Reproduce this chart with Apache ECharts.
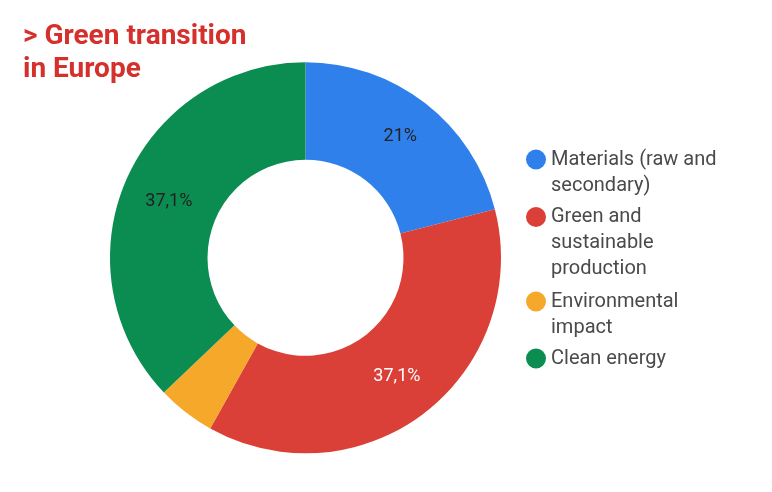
<!DOCTYPE html>
<html>
<head>
<meta charset="utf-8">
<script src="https://cdn.jsdelivr.net/npm/echarts@6/dist/echarts.min.js"></script>
<style>
html,body{margin:0;padding:0;background:#fff;}
#c{width:772px;height:492px;}
</style>
</head>
<body>
<div id="c"></div>
<script>
const categories = ['Materials (raw and secondary)', 'Green and sustainable production', 'Environmental impact', 'Clean energy'];
const legendLabels = ['Materials (raw and\nsecondary)', 'Green and\nsustainable\nproduction', 'Environmental\nimpact', 'Clean energy'];
const values = [21, 37.1, 4.8, 37.1];
const showLabel = [true, true, false, true];
const colors = ['#2f80ea', '#da4037', '#f6a82b', '#0b8c50'];
const labelColors = ['#222222', '#ffffff', '#222222', '#222222'];
const labelOffsets = [[3, -3], [0, 0], [0, 0], [1, 3]];

const chart = echarts.init(document.getElementById('c'), null, {renderer: 'canvas'});

const lineH = 26;
const legendCenters = [159.5, 217, 301.5, 358.5];
const legends = categories.map((name, i) => {
  const lines = legendLabels[i].split('\n').length;
  const txt = '\n'.repeat(lines - 1) + legendLabels[i];
  return {
    orient: 'vertical',
    left: 526,
    top: legendCenters[i] - 13 - lineH * (lines - 1),
    padding: 0,
    itemWidth: 20,
    itemHeight: 20,
    icon: 'circle',
    selectedMode: false,
    data: [name],
    formatter: () => txt,
    textStyle: {
      fontFamily: 'Roboto',
      fontSize: 20,
      color: '#4a4a4a',
      lineHeight: lineH
    }
  };
});

chart.setOption({
  animation: false,
  color: colors,
  title: {
    text: '> Green transition\nin Europe',
    left: 23,
    top: 20,
    padding: 0,
    textStyle: {
      fontFamily: 'Roboto',
      fontWeight: 'bold',
      fontSize: 28,
      lineHeight: 33,
      color: '#d5302b'
    }
  },
  legend: legends,
  series: [{
    type: 'pie',
    center: [305.5, 257.8],
    radius: [98, 195.5],
    startAngle: 90,
    clockwise: true,
    avoidLabelOverlap: false,
    emphasis: {disabled: true},
    itemStyle: {borderWidth: 0},
    labelLine: {show: false},
    data: categories.map((name, i) => ({
      name: name,
      value: values[i],
      label: {
        show: showLabel[i],
        position: 'inside',
        offset: labelOffsets[i],
        fontFamily: 'Roboto',
        fontSize: 18,
        color: labelColors[i],
        formatter: (p) => String(p.value).replace('.', ',') + '%'
      }
    }))
  }]
});
</script>
</body>
</html>
